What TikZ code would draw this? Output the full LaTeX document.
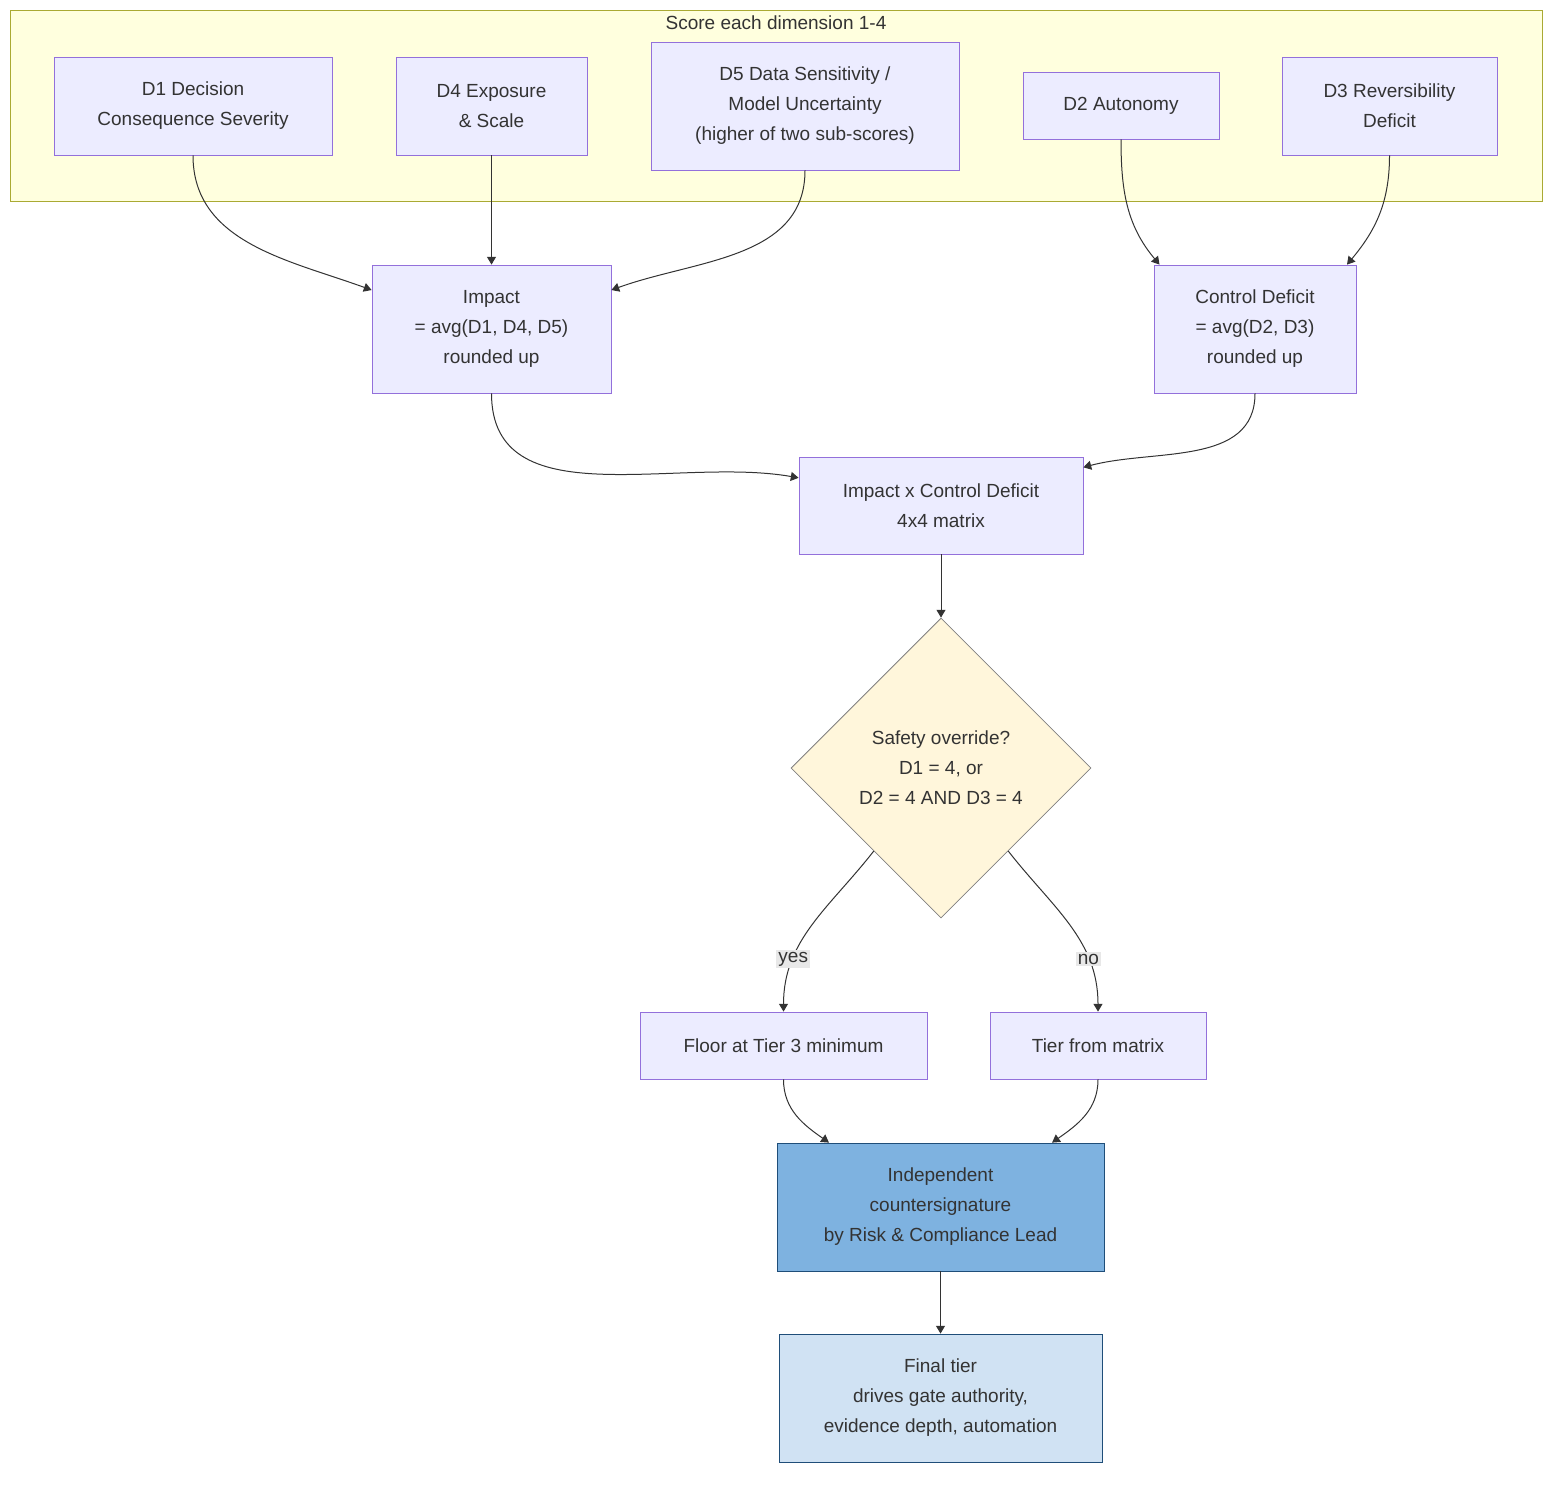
\documentclass[tikz,border=0pt]{standalone}
\usepackage{fontspec}
\setmainfont{Liberation Sans}
\usetikzlibrary{calc, positioning, arrows.meta, shapes.geometric}
\definecolor{boxfill}{HTML}{ECECFF}
\definecolor{boxline}{HTML}{9370DB}
\definecolor{clusterfill}{HTML}{FFFFDE}
\definecolor{clusterline}{HTML}{AAAA33}
\definecolor{diafill}{HTML}{FFF6DB}
\definecolor{signfill}{HTML}{7EB2E0}
\definecolor{finalfill}{HTML}{D0E2F3}
\definecolor{darkline}{HTML}{1F4E79}
\definecolor{edgecol}{HTML}{333333}
\tikzset{
    dim/.style={rectangle, draw=boxline, fill=boxfill, align=center, text=edgecol, font=\fontsize{9.5}{15}\selectfont},
    calc/.style={dim, minimum height=64pt},
    decision/.style={diamond, draw=gray, fill=diafill, align=center, text=edgecol, minimum width=150pt, minimum height=150pt, inner sep=0pt, font=\fontsize{9.5}{15}\selectfont},
    sign/.style={dim, draw=darkline, fill=signfill, minimum height=64pt},
    final/.style={dim, draw=darkline, fill=finalfill, minimum height=64pt},
    arrow/.style={-Triangle, draw=edgecol, line width=0.5pt},
    elabel/.style={fill=black!9, inner sep=1pt, text=edgecol, font=\fontsize{9.5}{12}\selectfont}
}
\begin{document}
\begin{tikzpicture}[x=0.5pt, y=-0.5pt]
    \useasboundingbox (0,0) rectangle (1568,1490);
    % dimension cluster
    \node[rectangle, draw=clusterline, fill=clusterfill, minimum width=766pt, minimum height=95.5pt, inner sep=0pt] (Cluster) at (776,105.5) {};
    \node[text=edgecol, font=\fontsize{9.5}{12}\selectfont] (ClusterLbl) at (776,23) {Score each dimension 1-4};

    \node[dim, minimum width=139pt, minimum height=49pt] (D1) at (193,106) {D1 Decision\\Consequence Severity};
    \node[dim, minimum width=95.5pt, minimum height=49pt] (D4) at (491.5,106) {D4 Exposure\\\& Scale};
    \node[dim, minimum width=154pt, minimum height=64pt] (D5) at (805,106) {D5 Data Sensitivity /\\Model Uncertainty\\(higher of two sub-scores)};
    \node[dim, minimum width=98pt, minimum height=33.5pt] (D2) at (1121,105.5) {D2 Autonomy};
    \node[dim, minimum width=107.5pt, minimum height=49pt] (D3) at (1389.5,106) {D3 Reversibility\\Deficit};

    \node[calc, minimum width=119.5pt] (Impact) at (491.5,329) {Impact\\= avg(D1, D4, D5)\\rounded up};
    \node[calc, minimum width=101pt] (Control) at (1255,329) {Control Deficit\\= avg(D2, D3)\\rounded up};
    \node[dim, minimum width=142pt, minimum height=48.5pt] (Matrix) at (941,505.5) {Impact x Control Deficit\\4x4 matrix};
    \node[decision] (Override) at (941,768) {Safety override?\\D1 = 4, or\\D2 = 4 AND D3 = 4};
    \node[dim, minimum width=143.5pt, minimum height=33.5pt] (Floor) at (783.5,1045.5) {Floor at Tier 3 minimum};
    \node[dim, minimum width=108pt, minimum height=33.5pt] (FromMatrix) at (1098,1045.5) {Tier from matrix};
    \node[sign, minimum width=163.5pt] (Sign) at (940.5,1207) {Independent\\countersignature\\by Risk \& Compliance Lead};
    \node[final, minimum width=161.5pt] (Final) at (940.5,1398) {Final tier\\drives gate authority,\\evidence depth, automation};

    \draw[arrow] (D1.south) to[out=-90, in=160] (Impact.162);
    \draw[arrow] (D4) -- (Impact);
    \draw[arrow] (D5.south) to[out=-90, in=20] (Impact.18);
    \draw[arrow] (D2.south) to[out=-90, in=130] (Control.146);
    \draw[arrow] (D3.south) to[out=-90, in=50] (Control.35);
    \draw[arrow] (Impact.south) to[out=-90, in=170] (Matrix.169);
    \draw[arrow] (Control.south) to[out=-90, in=15] (Matrix.15);
    \draw[arrow] (Matrix) -- (Override);
    \draw[arrow] (Override.231) to[out=-128, in=90] node[elabel, pos=0.72] {yes} (Floor.north);
    \draw[arrow] (Override.309) to[out=-52, in=90] node[elabel, pos=0.72] {no} (FromMatrix.north);
    \draw[arrow] (Floor.south) to[out=-90, in=145] (Sign.150);
    \draw[arrow] (FromMatrix.south) to[out=-90, in=35] (Sign.30);
    \draw[arrow] (Sign) -- (Final);
\end{tikzpicture}
\end{document}
